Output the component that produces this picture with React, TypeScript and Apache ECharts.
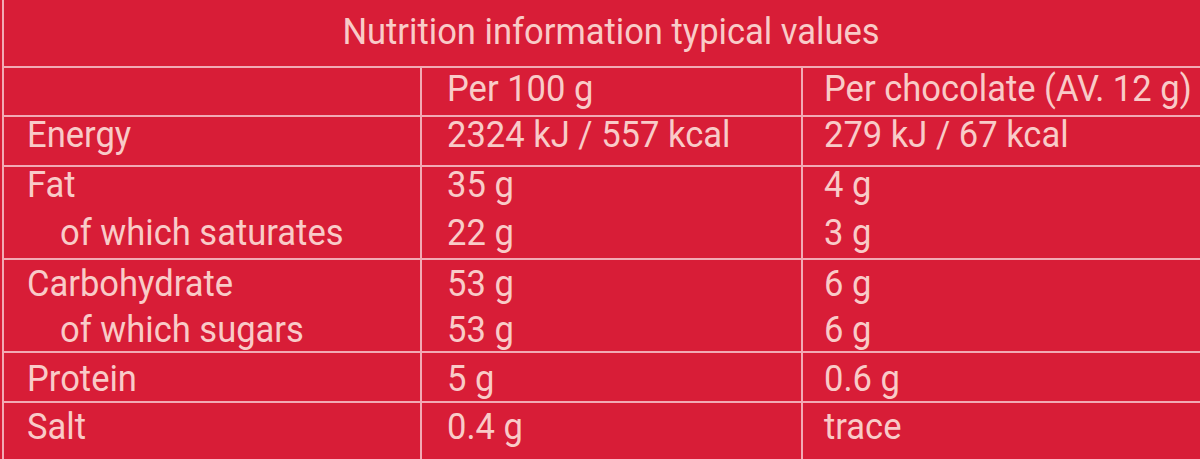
import React, { useEffect, useRef } from "react";
import * as echarts from "echarts";

// ---- data ----
const TITLE = "Nutrition information typical values";
const HEADERS = ["", "Per 100 g", "Per chocolate (AV. 12 g)"];
const NUTRIENTS = [
  "Energy",
  "Fat",
  "of which saturates",
  "Carbohydrate",
  "of which sugars",
  "Protein",
  "Salt",
];
const PER_100G = ["2324 kJ / 557 kcal", "35 g", "22 g", "53 g", "53 g", "5 g", "0.4 g"];
const PER_CHOCOLATE = ["279 kJ / 67 kcal", "4 g", "3 g", "6 g", "6 g", "0.6 g", "trace"];
const SUB_ROW = [false, false, true, false, true, false, false];

// ---- layout ----
const W = 1200;
const H = 459;
const BG = "#d81d37";
const TEXT = "#f9cbc8";
const LINE = "#f2aab4";
const FONT = "Roboto";
const FS = 36;
const SX = 0.96;
const COL_X = [27, 447, 824];
const INDENT = 33;
const COL_LINES = [421, 802];
const TITLE_BASE = 45;
const HEADER_BASE = 102;
const ROW_BASES = [148, 198, 246, 297, 343, 392, 440];
const HEAD_LINES = [67, 116];
const GROUP_LINES_AFTER = [166, 259, 352, 402]; // lines above each non-sub row (after first)

function txt(s: string, x: number, baseline: number, align: string = "left") {
  return {
    type: "text",
    x,
    y: baseline - 12.8,
    scaleX: SX,
    silent: true,
    style: {
      text: s,
      x: 0,
      y: 0,
      fill: TEXT,
      font: `normal ${FS}px ${FONT}`,
      fontFamily: FONT,
      fontSize: FS,
      align,
      verticalAlign: "middle",
    },
  };
}

function hline(y: number) {
  return {
    type: "line",
    silent: true,
    shape: { x1: 3, y1: y, x2: W, y2: y },
    style: { stroke: LINE, lineWidth: 2 },
  };
}
function vline(x: number, y1: number, y2: number) {
  return {
    type: "line",
    silent: true,
    shape: { x1: x, y1, x2: x, y2 },
    style: { stroke: LINE, lineWidth: 2 },
  };
}

export default function App() {
  const ref = useRef<HTMLDivElement>(null);
  useEffect(() => {
    document.body.style.margin = "0";
    if (!ref.current) return;
    const chart = echarts.init(ref.current, null, { renderer: "svg" });
    const elements: any[] = [];
    elements.push({
      type: "rect",
      silent: true,
      shape: { x: 0, y: 0, width: W, height: H },
      style: { fill: BG },
    });
    elements.push(vline(3, 0, H));
    HEAD_LINES.forEach((y) => elements.push(hline(y)));
    let gi = 0;
    NUTRIENTS.forEach((_, i) => {
      if (i > 0 && !SUB_ROW[i]) {
        elements.push(hline(GROUP_LINES_AFTER[gi]));
        gi++;
      }
    });
    COL_LINES.forEach((x) => elements.push(vline(x, HEAD_LINES[0], H)));
    elements.push(txt(TITLE, 611, TITLE_BASE, "center"));
    HEADERS.forEach((h, c) => {
      if (h) elements.push(txt(h, COL_X[c], HEADER_BASE));
    });
    NUTRIENTS.forEach((n, i) => {
      const b = ROW_BASES[i];
      elements.push(txt(n, COL_X[0] + (SUB_ROW[i] ? INDENT : 0), b));
      elements.push(txt(PER_100G[i], COL_X[1], b));
      elements.push(txt(PER_CHOCOLATE[i], COL_X[2], b));
    });
    chart.setOption({
      animation: false,
      backgroundColor: BG,
      graphic: { elements },
    });
    return () => chart.dispose();
  }, []);
  return <div ref={ref} style={{ width: W, height: H }} />;
}
